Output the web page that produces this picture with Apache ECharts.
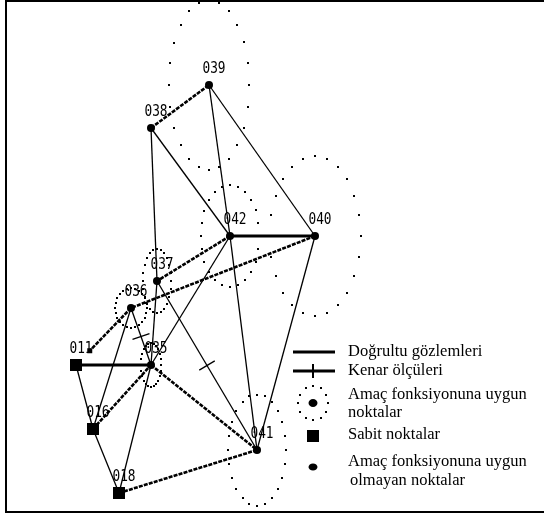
<!DOCTYPE html>
<html>
<head>
<meta charset="utf-8">
<script src="https://cdn.jsdelivr.net/npm/echarts@6/dist/echarts.min.js"></script>
<style>
  html, body { margin: 0; padding: 0; background: #fff; }
  #chart { width: 544px; height: 515px; }
</style>
</head>
<body>
<div id="chart"></div>
<script>
// Network stations: name, plan position (drawing units, y grows downward) and kind
const stationNames = ['011', '016', '018', '035', '036', '037', '038', '039', '040', '041', '042'];
const stationX     = [76, 93, 119, 151, 131, 157, 151, 209, 315, 257, 230];
const stationY     = [365, 429, 493, 365, 308, 281, 128, 85, 236, 450, 236];
// fixed = Sabit noktalar, fit = with error ellipse, nofit = without
const stationKind  = ['fixed', 'fixed', 'fixed', 'fit', 'fit', 'fit', 'nofit', 'fit', 'fit', 'fit', 'fit'];

// Error ellipses (semi-axes in drawing units) at the stations that satisfy the objective function
const ellipseStations = ['039', '042', '040', '041', '037', '036', '035'];
const ellipseSemiX    = [40, 29.5, 45.5, 29, 14, 16, 10];
const ellipseSemiY    = [85, 51, 80, 55.5, 32, 20, 22];

// Direction observations (thin lines)
const directionFrom = ['039', '039', '038', '038', '037', '042', '042', '040', '037', '036', '036', '011', '016', '018'];
const directionTo   = ['042', '040', '042', '037', '035', '035', '041', '041', '041', '035', '016', '016', '018', '035'];
// Bold lines (observed both ways); reach < 1 stops the line short of the far station
const boldFrom  = ['038', '042', '042', '040', '011', '016', '035', '018', '036'];
const boldTo    = ['039', '040', '037', '036', '035', '035', '041', '041', '011'];
const boldReach = [1, 1, 1, 1, 1, 1, 1, 1, 0.75];
// Measured distances, marked with a cross tick at mid-line
const distanceFrom = ['036', '037'];
const distanceTo   = ['035', '041'];

const idx = name => stationNames.indexOf(name);
const pos = name => [stationX[idx(name)], stationY[idx(name)]];

const edgeData = [];
directionFrom.forEach((f, i) => {
  const a = pos(f), b = pos(directionTo[i]);
  const tick = distanceFrom.some((d, k) => d === f && distanceTo[k] === directionTo[i]) ? 1 : 0;
  edgeData.push([a[0], a[1], b[0], b[1], 0, 1, tick]);
});
boldFrom.forEach((f, i) => {
  const a = pos(f), b = pos(boldTo[i]);
  edgeData.push([a[0], a[1], b[0], b[1], 1, boldReach[i], 0]);
});

const ellipseData = ellipseStations.map((s, i) => {
  const p = pos(s);
  return [p[0], p[1], ellipseSemiX[i], ellipseSemiY[i]];
});

const nodeData = stationNames.map((n, i) => ({ value: [stationX[i], stationY[i]], name: n, kind: stationKind[i] }));

const DOTS = 24;

function renderEdge(params, api) {
  const p1 = api.coord([api.value(0), api.value(1)]);
  const p2 = api.coord([api.value(2), api.value(3)]);
  const bold = api.value(4) === 1;
  const reach = api.value(5);
  const end = [p1[0] + (p2[0] - p1[0]) * reach, p1[1] + (p2[1] - p1[1]) * reach];
  const flat = Math.abs(p2[1] - p1[1]) < 1;
  const children = [{
    type: 'line',
    shape: { x1: p1[0], y1: p1[1], x2: end[0], y2: end[1] },
    style: {
      stroke: '#000',
      lineWidth: bold ? (flat ? 3 : 2.6) : 1.3,
      lineDash: bold && !flat ? [4, 1.2] : null
    }
  }];
  if (reach < 1) {
    children.push({ type: 'rect', shape: { x: end[0] - 2.5, y: end[1] - 2.5, width: 5, height: 5 }, style: { fill: '#000' } });
  }
  if (api.value(6) === 1) {
    const mx = (p1[0] + p2[0]) / 2, my = (p1[1] + p2[1]) / 2;
    const dx = p2[0] - p1[0], dy = p2[1] - p1[1];
    const len = Math.hypot(dx, dy);
    const nx = -dy / len * 9, ny = dx / len * 9;
    children.push({
      type: 'line',
      shape: { x1: mx - nx, y1: my - ny, x2: mx + nx, y2: my + ny },
      style: { stroke: '#000', lineWidth: 1.3 }
    });
  }
  return { type: 'group', children };
}

function renderEllipse(params, api) {
  const c = api.coord([api.value(0), api.value(1)]);
  const s = api.size([api.value(2), api.value(3)]);
  const children = [];
  for (let k = 0; k < DOTS; k++) {
    const t = k * 2 * Math.PI / DOTS;
    const x = c[0] + s[0] * Math.cos(t);
    const y = c[1] + s[1] * Math.sin(t);
    children.push({ type: 'rect', shape: { x: Math.round(x) - 1, y: Math.round(y) - 1, width: 2, height: 2 }, style: { fill: '#000' } });
  }
  return { type: 'group', children };
}

function renderLabel(params, api) {
  const c = api.coord([api.value(0), api.value(1)]);
  return {
    type: 'text',
    x: c[0] + 5,
    y: c[1] - 16,
    scaleX: 0.8,
    style: {
      text: stationNames[params.dataIndex],
      font: '16px "DejaVu Sans Mono"',
      fill: '#000',
      align: 'center',
      verticalAlign: 'middle'
    }
  };
}

// Legend pieces
const legendX = 313;
const legendFont = '16.5px "Liberation Serif"';
const legendDots = [];
for (let k = 0; k < 12; k++) {
  const t = k * 2 * Math.PI / 12;
  legendDots.push({ type: 'rect', shape: { x: Math.round(legendX + 15 * Math.cos(t)) - 1, y: Math.round(403 + 17 * Math.sin(t)) - 1, width: 2, height: 2 }, style: { fill: '#000' } });
}
const legendTexts = [
  ['Doğrultu gözlemleri', 348, 352],
  ['Kenar ölçüleri', 348, 371],
  ['Amaç fonksiyonuna uygun', 348, 395],
  ['noktalar', 348, 413],
  ['Sabit noktalar', 348, 435],
  ['Amaç fonksiyonuna uygun', 348, 462],
  ['olmayan noktalar', 350, 481]
];

const chart = echarts.init(document.getElementById('chart'), null, { renderer: 'canvas' });
chart.setOption({
  backgroundColor: '#fff',
  animation: false,
  grid: { left: 0, right: 0, top: 0, bottom: 0 },
  xAxis: { type: 'value', min: 0, max: 544, show: false },
  yAxis: { type: 'value', min: 0, max: 515, inverse: true, show: false },
  series: [
    { type: 'custom', renderItem: renderEllipse, data: ellipseData, silent: true, z: 1 },
    { type: 'custom', renderItem: renderEdge, data: edgeData, silent: true, z: 2 },
    {
      type: 'scatter',
      z: 3,
      silent: true,
      data: nodeData,
      symbol: (v, p) => nodeData[p.dataIndex].kind === 'fixed' ? 'rect' : 'circle',
      symbolSize: (v, p) => nodeData[p.dataIndex].kind === 'fixed' ? 12 : 8,
      itemStyle: { color: '#000', opacity: 1 }
    },
    { type: 'custom', renderItem: renderLabel, data: nodeData.map(d => d.value), silent: true, z: 4 }
  ],
  graphic: [
    // frame
    { type: 'line', shape: { x1: 6, y1: 0, x2: 6, y2: 513 }, style: { stroke: '#000', lineWidth: 2 } },
    { type: 'line', shape: { x1: 5, y1: 1, x2: 544, y2: 1 }, style: { stroke: '#000', lineWidth: 2 } },
    { type: 'line', shape: { x1: 5, y1: 512, x2: 544, y2: 512 }, style: { stroke: '#000', lineWidth: 2 } },
    // legend symbols
    { type: 'line', shape: { x1: 293, y1: 352, x2: 335, y2: 352 }, style: { stroke: '#000', lineWidth: 3 } },
    { type: 'line', shape: { x1: 293, y1: 371, x2: 335, y2: 371 }, style: { stroke: '#000', lineWidth: 3 } },
    { type: 'line', shape: { x1: legendX, y1: 364, x2: legendX, y2: 378 }, style: { stroke: '#000', lineWidth: 2 } },
    { type: 'group', children: legendDots },
    { type: 'ellipse', shape: { cx: legendX, cy: 403, rx: 4.5, ry: 4 }, style: { fill: '#000' } },
    { type: 'rect', shape: { x: legendX - 6, y: 430, width: 12, height: 12 }, style: { fill: '#000' } },
    { type: 'ellipse', shape: { cx: legendX, cy: 467, rx: 4.5, ry: 3.5 }, style: { fill: '#000' } },
    ...legendTexts.map(t => ({
      type: 'text', x: t[1], y: t[2],
      style: { text: t[0], font: legendFont, fill: '#000', align: 'left', verticalAlign: 'middle' }
    }))
  ]
});
</script>
</body>
</html>
